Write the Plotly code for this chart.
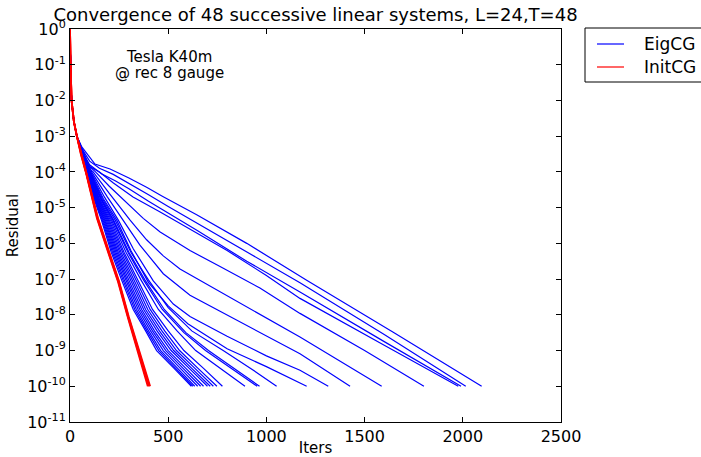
import plotly.graph_objects as go

# ---------------- data ----------------
# shared start of every solve: iteration, log10(residual)
head_iters = [0, 1, 3, 8, 20, 35]
head_log10 = [0, -0.5, -1, -2, -2.6, -3]

# EigCG solves (blue): iteration / log10 residual after the shared start
eig_iters = [
    [60, 95, 127, 204, 300, 390, 470, 645, 900, 1205, 1650, 2096],
    [60, 100, 150, 220, 300, 400, 500, 650, 900, 1171, 1600, 2015],
    [60, 100, 160, 230, 300, 400, 500, 650, 900, 1171, 1600, 1991],
    [60, 100, 150, 221, 321, 459, 627, 800, 1000, 1171, 1600, 1977],
    [55, 90, 130, 200, 289, 373, 459, 611, 764, 967, 1171, 1500, 1802],
    [55, 85, 118, 200, 306, 390, 475, 560, 764, 1171, 1587],
    [110, 190, 272, 356, 475, 611, 764, 1000, 1171, 1426],
    [105, 175, 246, 322, 424, 526, 611, 800, 1000, 1171, 1315],
    [102, 170, 238, 310, 400, 500, 600, 800, 1000, 1205],
    [100, 165, 230, 310, 400, 500, 620, 780, 920, 1052],
    [98, 160, 222, 300, 382, 480, 590, 705, 835, 965],
    [97, 158, 218, 295, 375, 470, 580, 690, 820, 953],
    [96, 155, 212, 285, 362, 450, 545, 640, 765, 891],
    [95, 150, 206, 275, 345, 420, 500, 580, 680, 776],
    [94, 147, 200, 268, 335, 408, 482, 558, 652, 748],
    [93, 144, 195, 260, 325, 396, 468, 542, 636, 730],
    [92, 141, 190, 253, 316, 385, 455, 528, 620, 714],
    [91, 138, 185, 246, 308, 375, 443, 515, 607, 700],
    [90, 135, 180, 240, 300, 365, 430, 500, 590, 680],
    [89, 132, 176, 234, 292, 356, 420, 488, 576, 665],
    [88, 130, 172, 228, 285, 347, 410, 475, 562, 650],
    [87, 127, 168, 222, 277, 338, 400, 462, 548, 635],
    [87, 125, 164, 216, 270, 330, 392, 452, 538, 625],
    [86, 122, 160, 210, 263, 322, 385, 441, 530, 618],
]
eig_log10 = [
    [-3.3, -3.55, -3.78, -3.92, -4.17, -4.43, -4.68, -5.2, -6.0, -7.03, -8.5, -10],
    [-3.35, -3.7, -3.9, -4.07, -4.32, -4.64, -4.97, -5.45, -6.25, -7.1, -8.55, -10],
    [-3.4, -3.8, -4.05, -4.25, -4.47, -4.82, -5.15, -5.65, -6.5, -7.36, -8.75, -10],
    [-3.45, -3.85, -4.0, -4.31, -4.7, -5.12, -5.65, -6.2, -6.9, -7.54, -8.85, -10],
    [-3.4, -3.8, -4.0, -4.4, -4.85, -5.3, -5.68, -6.2, -6.65, -7.25, -7.96, -9.0, -10],
    [-3.45, -3.85, -4.0, -4.6, -5.35, -5.9, -6.35, -6.72, -7.35, -8.62, -10],
    [-4.0, -4.7, -5.35, -6.05, -6.85, -7.45, -7.9, -8.6, -9.09, -10],
    [-4.0, -4.7, -5.35, -6.15, -7.05, -7.7, -8.05, -8.6, -9.15, -9.55, -10],
    [-4.0, -4.75, -5.35, -6.2, -7.1, -7.75, -8.25, -8.95, -9.45, -10],
    [-4.0, -4.75, -5.35, -6.25, -7.03, -7.8, -8.45, -9.0, -9.5, -10],
    [-4.0, -4.75, -5.35, -6.25, -7.03, -7.85, -8.5, -9.0, -9.5, -10],
    [-4.0, -4.75, -5.35, -6.25, -7.03, -7.85, -8.5, -9.0, -9.5, -10],
    [-4.0, -4.75, -5.35, -6.25, -7.03, -7.85, -8.45, -9.0, -9.5, -10],
    [-4.0, -4.75, -5.35, -6.25, -7.03, -7.85, -8.45, -9.0, -9.5, -10],
    [-4.0, -4.75, -5.35, -6.25, -7.03, -7.85, -8.45, -9.0, -9.5, -10],
    [-4.0, -4.75, -5.35, -6.25, -7.03, -7.85, -8.45, -9.0, -9.5, -10],
    [-4.0, -4.75, -5.35, -6.25, -7.03, -7.85, -8.45, -9.0, -9.5, -10],
    [-4.0, -4.75, -5.35, -6.25, -7.03, -7.85, -8.45, -9.0, -9.5, -10],
    [-4.0, -4.75, -5.35, -6.25, -7.03, -7.85, -8.45, -9.0, -9.5, -10],
    [-4.0, -4.75, -5.35, -6.25, -7.03, -7.85, -8.45, -9.0, -9.5, -10],
    [-4.0, -4.75, -5.35, -6.25, -7.03, -7.85, -8.45, -9.0, -9.5, -10],
    [-4.0, -4.75, -5.35, -6.25, -7.03, -7.85, -8.45, -9.0, -9.5, -10],
    [-4.0, -4.75, -5.35, -6.25, -7.03, -7.85, -8.45, -9.0, -9.5, -10],
    [-4.0, -4.75, -5.35, -6.25, -7.03, -7.85, -8.45, -9.0, -9.5, -10],
]

# InitCG solves (red), all nearly identical
init_iters = [
    [55, 80, 137, 194, 243, 293, 345, 372, 396],
    [56, 81, 139, 196, 245, 295, 347, 375, 400],
    [57, 82, 141, 198, 247, 297, 349, 378, 404],
    [58, 83, 143, 200, 249, 299, 351, 381, 408],
]
init_log10 = [
    [-3.5, -4, -5.3, -6.25, -7.05, -8.05, -9, -9.5, -10],
    [-3.5, -4, -5.3, -6.25, -7.05, -8.05, -9, -9.5, -10],
    [-3.5, -4, -5.3, -6.25, -7.05, -8.05, -9, -9.5, -10],
    [-3.5, -4, -5.3, -6.25, -7.05, -8.05, -9, -9.5, -10],
]

x_ticks = [0, 500, 1000, 1500, 2000, 2500]
y_exponents = [0, -1, -2, -3, -4, -5, -6, -7, -8, -9, -10, -11]

title_text = "Convergence of 48 successive linear systems, L=24,T=48"
note_lines = ["Tesla K40m", "@ rec 8 gauge"]
legend_names = ["EigCG", "InitCG"]
legend_colors = ["#0000ff", "#ff0000"]

# ---------------- figure ----------------
fig = go.Figure()

for i, (its, lg) in enumerate(zip(eig_iters, eig_log10)):
    fig.add_trace(go.Scatter(
        x=head_iters + its, y=[10 ** v for v in head_log10 + lg],
        mode="lines", line=dict(color=legend_colors[0], width=1.2),
        name=legend_names[0], showlegend=False))

for i, (its, lg) in enumerate(zip(init_iters, init_log10)):
    fig.add_trace(go.Scatter(
        x=head_iters + its, y=[10 ** v for v in head_log10 + lg],
        mode="lines", line=dict(color=legend_colors[1], width=1.8),
        name=legend_names[1], showlegend=False))

axis_common = dict(showline=True, linecolor="black", linewidth=1, mirror="ticks",
                   ticks="inside", ticklen=5, tickcolor="black", showgrid=False,
                   zeroline=False, tickfont=dict(size=16), automargin=False)

fig.update_xaxes(range=[0, 2500], tickvals=x_ticks,
                 title=dict(text="Iters", font=dict(size=15), standoff=0),
                 **axis_common)
fig.update_yaxes(type="log", range=[-11, 0],
                 tickvals=[10 ** e for e in y_exponents],
                 ticktext=["10<sup>%d</sup>" % e for e in y_exponents],
                 title=dict(text="Residual", font=dict(size=15), standoff=4),
                 **axis_common)

# plot area: x 70..561 px, y 29..422 px
def px(xpix):
    return (xpix - 70) / 491.0

def py(ypix):
    return (422 - ypix) / 393.0

annotations = [
    dict(text=note_lines[0], x=px(169), y=py(57), xref="paper", yref="paper",
         xanchor="center", yanchor="middle", showarrow=False, font=dict(size=15)),
    dict(text=note_lines[1], x=px(169), y=py(73), xref="paper", yref="paper",
         xanchor="center", yanchor="middle", showarrow=False, font=dict(size=15)),
]
shapes = [
    dict(type="rect", xref="paper", yref="paper", x0=px(585), x1=px(712),
         y0=py(82), y1=py(28), line=dict(color="black", width=1),
         fillcolor="white", layer="above"),
]
for k, (nm, col) in enumerate(zip(legend_names, legend_colors)):
    yy = py(44 + 23 * k)
    shapes.append(dict(type="line", xref="paper", yref="paper",
                       x0=px(597), x1=px(624), y0=yy, y1=yy,
                       line=dict(color=col, width=1.2), layer="above"))
    annotations.append(dict(text=nm, x=px(642), y=yy, xref="paper", yref="paper",
                            xanchor="left", yanchor="middle", showarrow=False,
                            font=dict(size=17)))

fig.update_layout(
    width=701, height=457,
    margin=dict(l=70, r=140, t=29, b=35),
    plot_bgcolor="white", paper_bgcolor="white",
    font=dict(family="DejaVu Sans", color="black"),
    title=dict(text=title_text, font=dict(size=18), x=px(315.5), xref="paper",
               xanchor="center", y=1 - 15 / 457.0, yref="container",
               yanchor="middle"),
    showlegend=False,
    annotations=annotations,
    shapes=shapes,
)

fig.write_html("out.html",
               config={"displayModeBar": False},
               post_script="document.body.style.margin='0';"
                           "document.body.style.overflow='hidden';")
